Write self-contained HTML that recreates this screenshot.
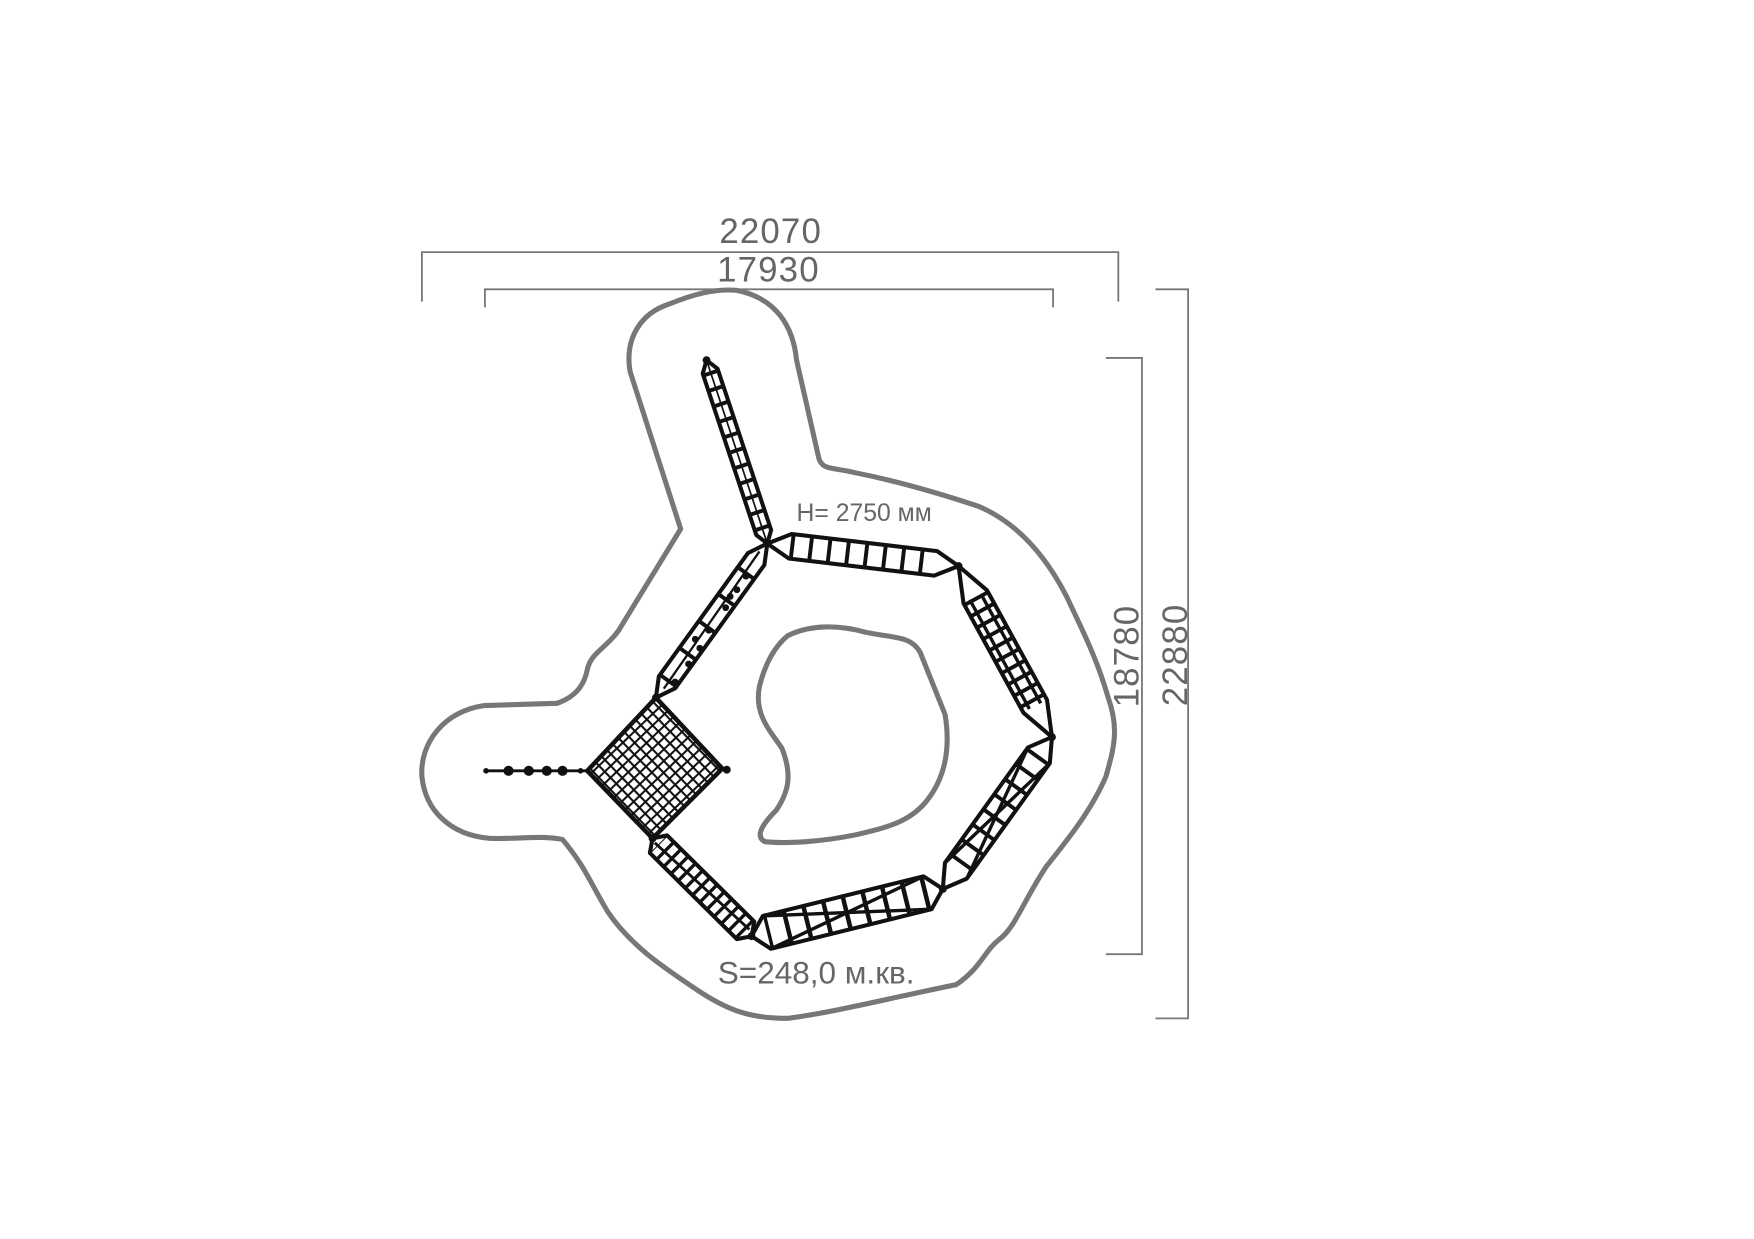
<!DOCTYPE html>
<html><head><meta charset="utf-8"><style>
html,body{margin:0;padding:0;background:#fff}
svg{display:block}
text{font-family:"Liberation Sans","DejaVu Sans",sans-serif;fill:#666}
</style></head><body>
<svg width="1754" height="1239" viewBox="0 0 1559 1101" xmlns="http://www.w3.org/2000/svg">
<defs>
<pattern id="grid" width="7.4" height="7.4" patternUnits="userSpaceOnUse" patternTransform="rotate(46)">
<rect width="7.4" height="7.4" fill="#fff"/>
<path d="M0,0H7.4M0,0V7.4" stroke="#111" stroke-width="3.6"/>
</pattern>
</defs>
<rect width="1559" height="1101" fill="#fff"/>
<g fill="none" stroke="#777" stroke-width="1.6">
<polyline points="375,268 375,224 994,224 994,268"/>
<polyline points="431,273 431,257 936,257 936,273"/>
<polyline points="1027,257 1056,257 1056,905 1027,905"/>
<polyline points="983,318 1015,318 1015,848 983,848"/>
</g>
<text x="685" y="216" font-size="31" text-anchor="middle" letter-spacing="1">22070</text>
<text x="683" y="250" font-size="31" text-anchor="middle" letter-spacing="1">17930</text>
<text transform="translate(1055,582) rotate(-90)" font-size="31" text-anchor="middle" letter-spacing="1">22880</text>
<text transform="translate(1012,583) rotate(-90)" font-size="31" text-anchor="middle" letter-spacing="1">18780</text>
<g fill="none" stroke="#777" stroke-width="4.5" stroke-linejoin="round">
<path d="M595,270 C615,262 635,256 655,258 C690,265 705,290 708,320 L728,408 C732,418 740,415 760,420 C800,428 840,440 870,450 C905,465 930,495 948,530 C962,560 975,585 985,620 C995,648 990,665 983,690 C970,720 950,745 930,770 C910,800 902,825 888,835 C875,845 872,860 850,875 C800,885 740,900 700,905 C670,905 650,900 620,880 C590,860 560,840 540,810 C525,785 520,770 500,746 C480,742 460,746 435,745 C400,742 378,720 375,690 C373,660 395,632 430,627 L495,625 C515,618 520,605 522,595 C525,580 540,575 550,560 L605,470 L560,330 C555,300 570,278 595,270 Z"/>
<path d="M700,565 C720,555 745,555 770,562 C795,567 810,565 818,580 L840,635 C845,665 840,690 825,710 C810,730 790,735 760,742 C730,748 700,750 680,748 C672,744 675,735 690,720 C700,705 705,690 695,665 C685,650 670,635 675,610 C680,590 688,575 700,565 Z"/>
</g>
<g stroke="#111" fill="none" stroke-width="3.6" stroke-linejoin="round">
<polygon points="628,320 624.6,332 672.2,475.4 682,483 685.4,471 637.8,327.6"/>
<line x1="631.2" y1="329.8" x2="678.8" y2="473.2" stroke-width="13" stroke-dasharray="3.5 11"/>
<line x1="628" y1="320" x2="682" y2="483" stroke-width="1.5"/>
<polygon points="682,483 701.1,496.3 830.3,511.5 852,503 832.9,489.7 703.7,474.5"/>
<line x1="702.4" y1="485.4" x2="831.6" y2="500.6" stroke-width="21" stroke-dasharray="3.5 13"/>
<polygon points="852,503 856.4,536.1 909.6,633.3 935,655 930.6,621.9 877.4,524.7"/>
<line x1="866.9" y1="530.4" x2="920.1" y2="627.6" stroke-width="23" stroke-dasharray="3.5 8"/>
<line x1="862" y1="533" x2="915" y2="630" stroke-width="3"/>
<line x1="872" y1="528" x2="925" y2="625" stroke-width="3"/>
<polygon points="935,655 913.7,664.2 839.9,766.8 838,790 859.3,780.8 933.1,678.2"/>
<line x1="923.4" y1="671.2" x2="849.6" y2="773.8" stroke-width="23" stroke-dasharray="3.5 13"/>
<line x1="913.7" y1="664.2" x2="859.3" y2="780.8" stroke-width="3"/>
<line x1="933.1" y1="678.2" x2="839.9" y2="766.8" stroke-width="3"/>
<polygon points="838,790 820.8,778.8 678,814 668,832 685.2,843.2 828,808"/>
<line x1="824.4" y1="793.4" x2="681.6" y2="828.6" stroke-width="29" stroke-dasharray="4 14"/>
<line x1="820.8" y1="778.8" x2="685.2" y2="843.2" stroke-width="3"/>
<line x1="828" y1="808" x2="678" y2="814" stroke-width="3"/>
<polygon points="668,832 670.4,819 593,742.4 580,745 577.6,758 655,834.6"/>
<line x1="662.7" y1="826.8" x2="585.3" y2="750.2" stroke-width="21" stroke-dasharray="3 6"/>
<line x1="666" y1="826" x2="582" y2="749" stroke-width="2.5"/>
<polygon points="583,620 600.2,611.6 679.4,502 682,483 664.8,491.4 585.6,601"/>
<line x1="592.9" y1="606.3" x2="672.1" y2="496.7" stroke-width="17" stroke-dasharray="3.5 26"/>
<line x1="590" y1="612" x2="675" y2="490" stroke-width="2"/>
<polygon points="583,620 642,683 580,745 522,685" fill="url(#grid)" stroke-width="4"/>
<line x1="432" y1="685" x2="522" y2="685" stroke-width="2.5"/>
<line x1="642" y1="683" x2="646" y2="684" stroke-width="2"/>
</g>
<g fill="#111">
<circle cx="600" cy="606" r="3"/><circle cx="612" cy="590" r="3"/><circle cx="622" cy="576" r="3"/>
<circle cx="630" cy="560" r="3"/><circle cx="645" cy="540" r="3"/><circle cx="655" cy="524" r="3"/>
<circle cx="663" cy="512" r="3"/><circle cx="618" cy="568" r="3"/><circle cx="649" cy="530" r="3"/>
<circle cx="432" cy="685" r="2.5"/><circle cx="452" cy="685" r="4.5"/><circle cx="470" cy="685" r="4.5"/>
<circle cx="486" cy="685" r="4.5"/><circle cx="500" cy="685" r="4.5"/><circle cx="516" cy="685" r="2.5"/>
<circle cx="646" cy="684" r="3.5"/>
<circle cx="628" cy="320" r="3.5"/><circle cx="682" cy="483" r="3.5"/><circle cx="852" cy="503" r="3.5"/>
<circle cx="935" cy="655" r="3.5"/><circle cx="838" cy="790" r="3.5"/><circle cx="668" cy="832" r="3.5"/>
<circle cx="580" cy="745" r="3.5"/><circle cx="583" cy="620" r="3.5"/>
</g>
<text x="708" y="463" font-size="22">H= 2750 мм</text>
<text x="638" y="874" font-size="28">S=248,0 м.кв.</text>
</svg>
</body></html>
